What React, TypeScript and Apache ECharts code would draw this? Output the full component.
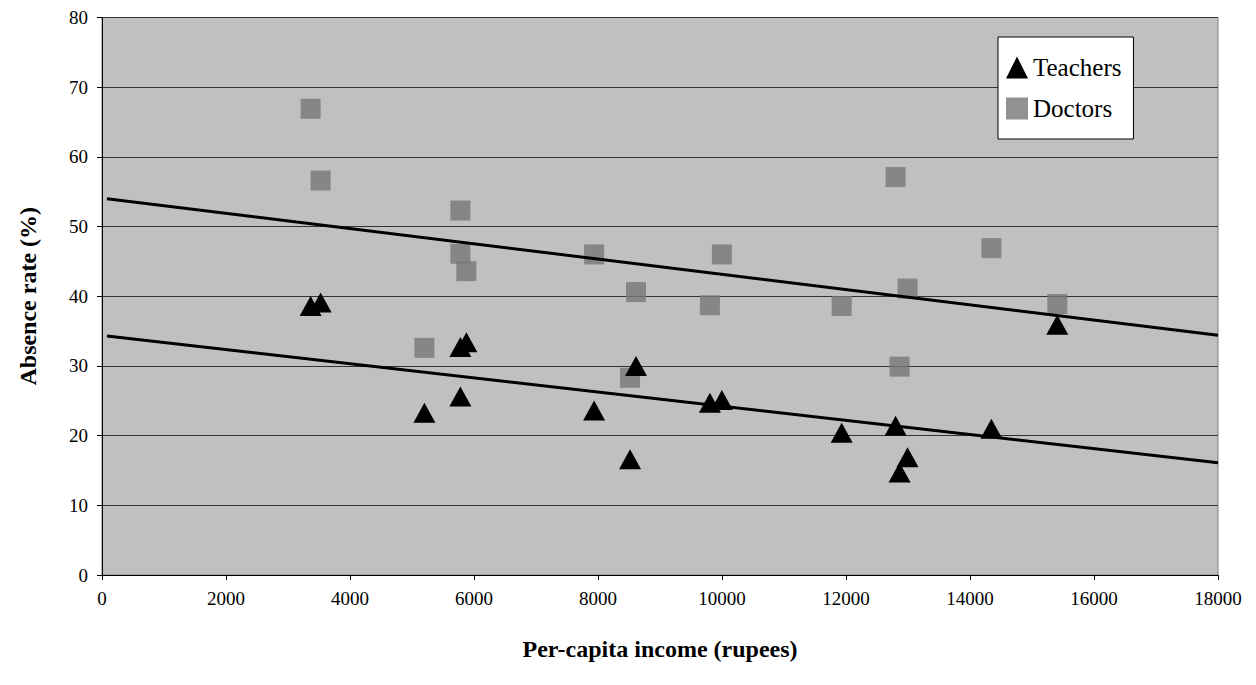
import { useEffect, useRef } from "react";
import * as echarts from "echarts";

const teachers: [number, number][] = [
  [3365, 38.6], [3526, 39.1], [5200, 23.3], [5780, 32.7], [5780, 25.6], [5877, 33.4],
  [7937, 23.6], [8517, 16.6], [8613, 30], [9805, 24.7], [9998, 25.1], [11930, 20.4],
  [12800, 21.4], [12864, 14.7], [12993, 16.9], [14345, 21], [15408, 35.9],
];
const doctors: [number, number][] = [
  [3365, 66.9], [3526, 56.6], [5200, 32.6], [5780, 52.3], [5780, 46.1], [5877, 43.6],
  [7937, 46], [8517, 28.3], [8613, 40.6], [9805, 38.7], [9998, 46], [11930, 38.6],
  [12800, 57.1], [12864, 29.9], [12993, 41.1], [14345, 46.9], [15408, 38.9],
];
const teacherTrend: [number, number][] = [[80, 34.3], [18000, 16.1]];
const doctorTrend: [number, number][] = [[80, 54], [18000, 34.4]];

const FONT = "'Liberation Serif', serif";

export default function App() {
  const ref = useRef<HTMLDivElement>(null);

  useEffect(() => {
    if (!ref.current) return;
    const chart = echarts.init(ref.current, null, { renderer: "svg" });
    chart.setOption({
      animation: false,
      textStyle: { fontFamily: FONT },
      grid: { left: 87, right: 30, top: 7, bottom: 102, backgroundColor: "#c0c0c0", show: true, borderColor: "#808080", borderWidth: 1 },
      legend: {
        left: 990, top: 29, orient: "vertical", backgroundColor: "#fff", borderColor: "#000", borderWidth: 1,
        padding: [18, 12, 18, 8], itemGap: 16, itemWidth: 22, itemHeight: 22,
        textStyle: { fontSize: 25, fontFamily: FONT, color: "#000" },
        data: ["Teachers", "Doctors"],
      },
      xAxis: {
        type: "value", min: 0, max: 18000, interval: 2000,
        name: "Per-capita income (rupees)", nameLocation: "middle", nameGap: 62,
        nameTextStyle: { fontSize: 24, fontWeight: "bold", color: "#000", fontFamily: FONT },
        axisLine: { lineStyle: { color: "#000" } }, axisTick: { show: true, lineStyle: { color: "#000" } },
        axisLabel: { fontSize: 19, color: "#000", margin: 14, fontFamily: FONT, formatter: (v: number) => String(v) },
        splitLine: { show: false },
      },
      yAxis: {
        type: "value", min: 0, max: 80, interval: 10,
        name: "Absence rate (%)", nameLocation: "middle", nameGap: 62,
        nameTextStyle: { fontSize: 24, fontWeight: "bold", color: "#000", fontFamily: FONT },
        axisLine: { show: true, lineStyle: { color: "#000" } }, axisTick: { show: true, lineStyle: { color: "#000" } },
        axisLabel: { fontSize: 19, color: "#000", margin: 14, fontFamily: FONT },
        splitLine: { lineStyle: { color: "#333", width: 1 } },
      },
      series: [
        { name: "Doctors", type: "scatter", symbol: "rect", symbolSize: 20, itemStyle: { color: "#777" }, data: doctors, z: 3 },
        { name: "Teachers", type: "scatter", symbol: "triangle", symbolSize: [22, 20], itemStyle: { color: "#000", opacity: 1 }, data: teachers, z: 4 },
        { type: "line", data: doctorTrend, symbol: "none", lineStyle: { color: "#000", width: 3 }, z: 5 },
        { type: "line", data: teacherTrend, symbol: "none", lineStyle: { color: "#000", width: 3 }, z: 5 },
      ],
    });
    return () => chart.dispose();
  }, []);

  return <div ref={ref} style={{ width: 1240, height: 669 }} />;
}
